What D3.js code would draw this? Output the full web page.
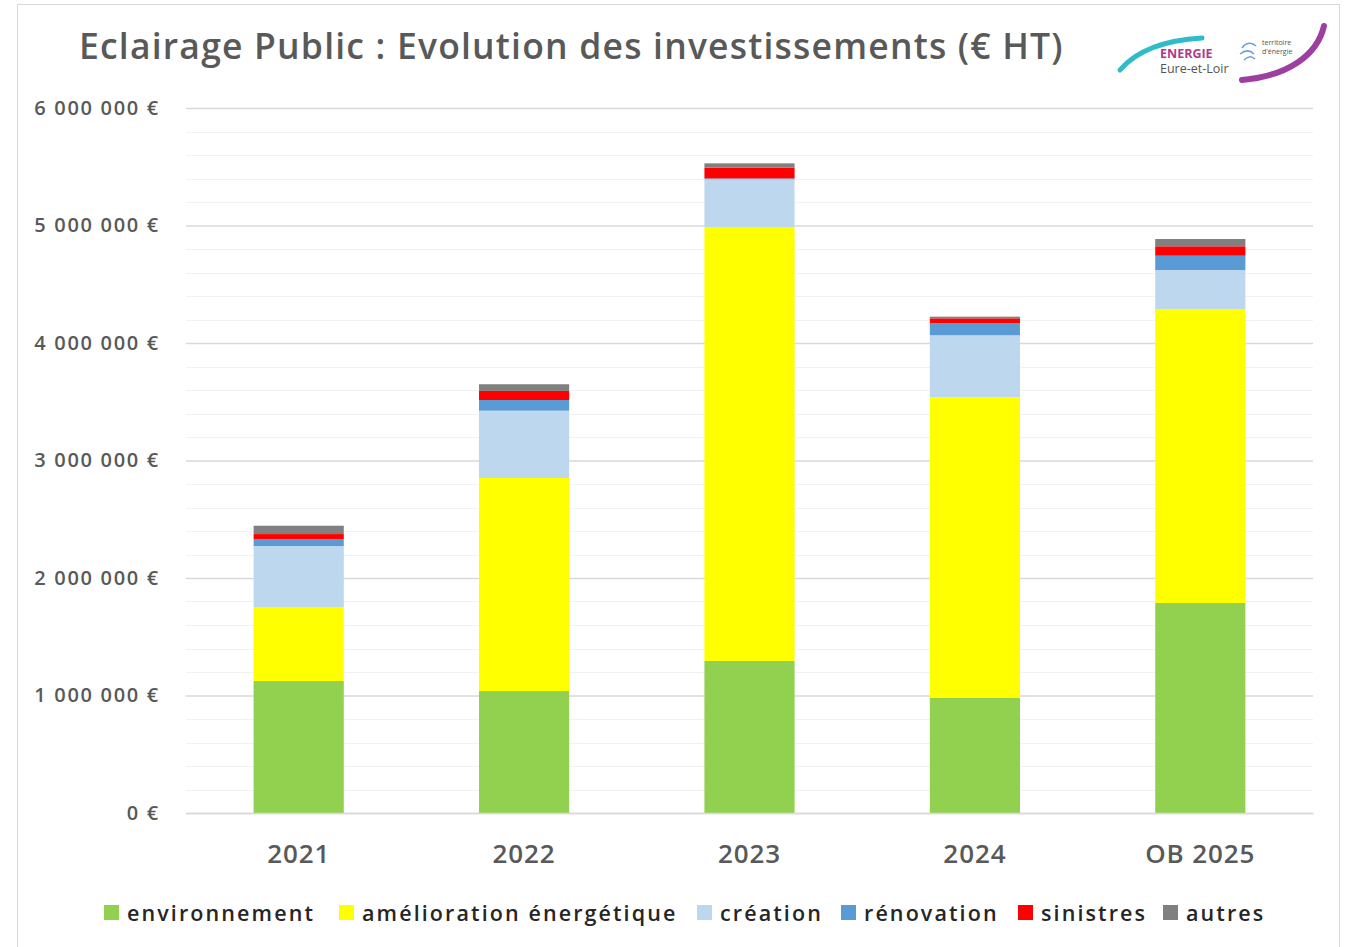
<!DOCTYPE html>
<html>
<head>
<meta charset="utf-8">
<script src="https://cdn.jsdelivr.net/npm/d3@7"></script>
<style>
  html, body { margin: 0; padding: 0; background: #fff; }
  svg { display: block; }
  text { font-family: "Open Sans", Lato, sans-serif; }
</style>
</head>
<body>
<div id="chart"></div>
<script>
// Years shown on the x axis
const categories = ["2021", "2022", "2023", "2024", "OB 2025"];

// Investment per category of work (€ HT), stacked bottom to top
const environnement = [1123000, 1038000, 1294000, 979000, 1787000];
const amelioration  = [630000, 1813000, 3693000, 2561000, 2502000];
const creation      = [519000, 573000, 406000, 526000, 332000];
const renovation    = [60000, 91000, 8000, 102000, 122000];
const sinistres     = [42000, 77000, 91000, 42000, 80000];
const autres        = [71000, 57000, 37000, 14000, 62000];

const seriesNames = ["environnement", "amélioration énergétique", "création", "rénovation", "sinistres", "autres"];
const seriesColors = ["#92d050", "#ffff00", "#bdd7ee", "#5b9bd5", "#ff0000", "#808080"];
const yTicks = [0, 1000000, 2000000, 3000000, 4000000, 5000000, 6000000];

const W = 1348, H = 947;
const plotLeft = 186, plotRight = 1313, plotTop = 108, plotBottom = 813;

const svg = d3.select("#chart").append("svg").attr("width", W).attr("height", H);

// chart frame
svg.append("rect").attr("x", 17.5).attr("y", 4.5).attr("width", 1322).attr("height", 960)
  .attr("fill", "#fff").attr("stroke", "#d9d9d9").attr("stroke-width", 1);

const rows = categories.map((c, i) => ({
  cat: c,
  environnement: environnement[i],
  amelioration: amelioration[i],
  creation: creation[i],
  renovation: renovation[i],
  sinistres: sinistres[i],
  autres: autres[i]
}));
const keys = ["environnement", "amelioration", "creation", "renovation", "sinistres", "autres"];
const stacked = d3.stack().keys(keys)(rows);

const x = d3.scaleBand().domain(categories)
  .range([plotLeft, plotRight]).paddingInner(0.6).paddingOuter(0.3);
const y = d3.scaleLinear().domain([0, 6000000]).range([plotBottom, plotTop]);

// minor gridlines every 200 000 €
const minor = d3.range(200000, 6000001, 200000).filter(v => v % 1000000 !== 0);
svg.append("g").selectAll("line").data(minor).join("line")
  .attr("x1", plotLeft).attr("x2", plotRight)
  .attr("y1", d => Math.round(y(d)) + 0.5).attr("y2", d => Math.round(y(d)) + 0.5)
  .attr("stroke", "#f2f2f2").attr("stroke-width", 1);

// y axis with major gridlines
const fmt = v => (v === 0 ? "0" : d3.format(",")(v).replace(/,/g, " ")) + " €";
const yAxis = svg.append("g").attr("transform", `translate(${plotLeft},0)`)
  .call(d3.axisLeft(y).tickValues(yTicks).tickFormat(fmt)
    .tickSize(-(plotRight - plotLeft)).tickPadding(26));
yAxis.select(".domain").remove();
yAxis.selectAll(".tick line").attr("stroke", "#d9d9d9").attr("stroke-width", 1.5);
yAxis.selectAll(".tick text").attr("fill", "#595959").attr("font-size", 20)
  .attr("font-weight", 600).attr("letter-spacing", 1.7);

// stacked bars
svg.append("g").selectAll("g").data(stacked).join("g")
  .attr("fill", (d, i) => seriesColors[i])
  .selectAll("rect").data(d => d).join("rect")
  .attr("x", d => x(d.data.cat))
  .attr("width", x.bandwidth())
  .attr("y", d => y(d[1]))
  .attr("height", d => y(d[0]) - y(d[1]));

// x axis
const xAxis = svg.append("g").attr("transform", `translate(0,${plotBottom})`)
  .call(d3.axisBottom(x).tickSize(0).tickPadding(32));
xAxis.select(".domain").attr("stroke", "#d9d9d9").attr("stroke-width", 1.5);
xAxis.selectAll(".tick text").attr("fill", "#595959").attr("font-size", 26)
  .attr("font-weight", 600).attr("letter-spacing", 0.9);

// title
svg.append("text").attr("x", 79).attr("y", 59)
  .attr("fill", "#595959").attr("font-size", 35.5).attr("font-weight", 600)
  .attr("letter-spacing", 1.2)
  .text("Eclairage Public : Evolution des investissements (€ HT)");

// legend
const legendX = [104, 339, 697, 841, 1018, 1163];
const lg = svg.append("g").selectAll("g").data(seriesNames).join("g")
  .attr("transform", (d, i) => `translate(${legendX[i]},913)`);
lg.append("rect").attr("x", 0).attr("y", -8).attr("width", 15).attr("height", 15)
  .attr("fill", (d, i) => seriesColors[i]);
lg.append("text").attr("x", 23).attr("y", 8).attr("fill", "#262626")
  .attr("font-size", 21.5).attr("font-weight", 600).attr("letter-spacing", 2.1).text(d => d);

// logo
const logo = svg.append("g").attr("transform", "translate(1112,18)");
logo.append("path").attr("d", "M8,52 C25,32 55,22 90,20")
  .attr("fill", "none").attr("stroke", "#2fbcc8").attr("stroke-width", 5).attr("stroke-linecap", "round");
logo.append("path").attr("d", "M130,62 C175,58 205,38 212,8")
  .attr("fill", "none").attr("stroke", "#9c3fa0").attr("stroke-width", 6).attr("stroke-linecap", "round");
logo.append("text").attr("x", 48).attr("y", 40).attr("fill", "#b03a8c")
  .attr("font-size", 12.5).attr("font-weight", 700).text("ENERGIE");
logo.append("text").attr("x", 48).attr("y", 55).attr("fill", "#555")
  .attr("font-size", 12.5).text("Eure-et-Loir");
logo.append("path").attr("d", "M130,30 c4,-6 10,-6 14,-2 M128,36 c5,-4 10,-4 14,0 M132,42 c4,-4 8,-4 11,-1")
  .attr("fill", "none").attr("stroke", "#6aa0d8").attr("stroke-width", 1.5);
logo.append("text").attr("x", 150).attr("y", 27).attr("fill", "#555").attr("font-size", 7).text("territoire");
logo.append("text").attr("x", 150).attr("y", 36).attr("fill", "#555").attr("font-size", 7).text("d'énergie");
</script>
</body>
</html>
